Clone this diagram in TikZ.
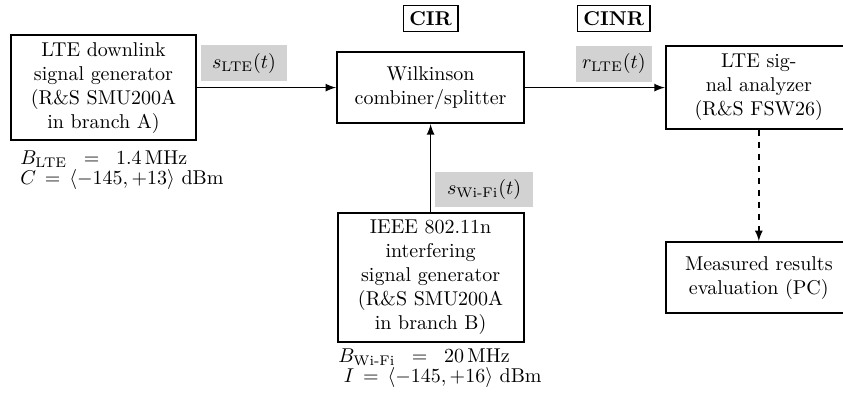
\documentclass[tikz,border=0pt]{standalone}
\usepackage{amsmath, amssymb}
\usepackage{tikz}
\usetikzlibrary{positioning}

\tikzset{
  block/.style={draw, line width=1pt, align=center, inner sep=2pt},
  siglabel/.style={fill=gray!35, minimum height=0.63cm, inner sep=2pt},
  quantity/.style={draw, semithick, inner sep=3pt},
  params/.style={align=left, anchor=north west, inner sep=2pt},
  flow/.style={thick, -latex},
}

\begin{document}
\begin{tikzpicture}
\clip (0 cm, 0 cm) rectangle (14.82 cm, -6.92 cm);
% blocks
\node[block, minimum width=3.25cm, minimum height=1.85cm] (gen_lte) at (1.82 cm, -1.54 cm)
  {LTE downlink\\signal generator\\(R\&S SMU200A\\in branch A)};
\node[block, minimum width=3.29cm, minimum height=1.25cm] (wilkinson) at (7.57 cm, -1.54 cm)
  {Wilkinson\\combiner/splitter};
\node[block, minimum width=3.27cm, minimum height=1.46cm] (analyzer) at (13.34 cm, -1.54 cm)
  {LTE sig-\\nal analyzer\\(R\&S FSW26)};
\node[block, minimum width=3.27cm, minimum height=1.25cm] (evaluation) at (13.34 cm, -4.88 cm)
  {Measured results\\evaluation (PC)};
\node[block, minimum width=3.27cm, minimum height=2.27cm] (gen_wifi) at (7.57 cm, -4.88 cm)
  {IEEE 802.11n\\interfering\\signal generator\\(R\&S SMU200A\\in branch B)};
% ratios
\node[quantity] (cir) at (7.57 cm, -0.32 cm) {\textbf{CIR}};
\node[quantity] (cinr) at (10.79 cm, -0.32 cm) {\textbf{CINR}};
% signals
\node[siglabel, minimum width=1.51cm] (s_lte) at (4.29 cm, -1.11 cm) {$s_\mathrm{LTE}(t)$};
\node[siglabel, minimum width=1.34cm] (r_lte) at (10.79 cm, -1.12 cm) {$r_\mathrm{LTE}(t)$};
\node[siglabel, minimum width=1.72cm] (s_wifi) at (8.51 cm, -3.33 cm) {$s_\text{Wi-Fi}(t)$};
% settings
\node[params] (par_lte) at (0.28 cm, -2.57 cm)
  {$B_\mathrm{LTE}\;\;=\;\;1.4\,\mathrm{MHz}$\\[-2pt]$C\,=\,\langle -145, +13\rangle$ dBm};
\node[params] (par_wifi) at (5.87 cm, -6.05 cm)
  {$B_\text{Wi-Fi}\;\;=\;\;20\,\mathrm{MHz}$\\[-2pt]$\;I\,=\,\langle -145, +16\rangle$ dBm};
% connections
\draw[flow] (gen_lte) -- (wilkinson);
\draw[flow] (wilkinson) -- (analyzer);
\draw[flow] (gen_wifi) -- (wilkinson);
\draw[flow, dashed] (analyzer) -- (evaluation);
\end{tikzpicture}
\end{document}
